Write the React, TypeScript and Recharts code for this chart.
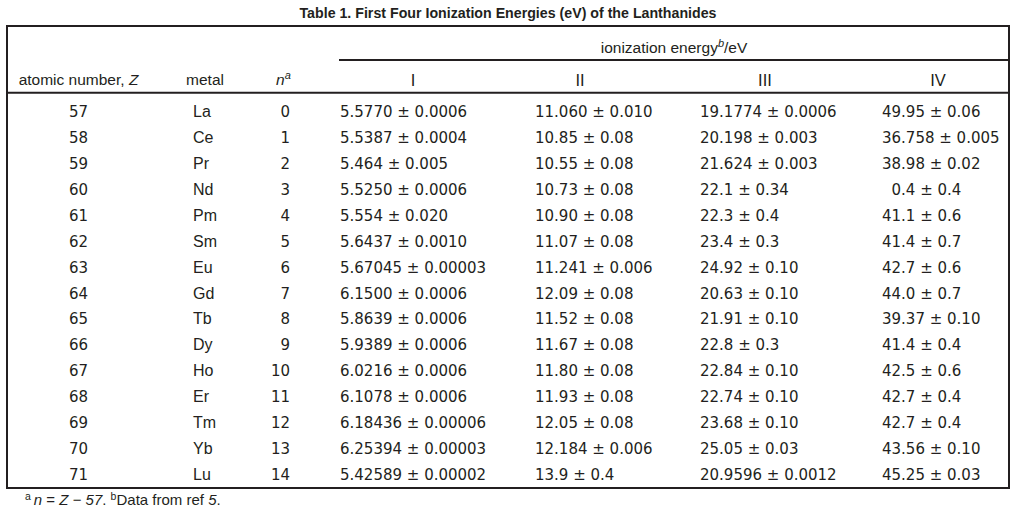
import React from 'react';
import { ScatterChart, Scatter, XAxis, YAxis, Customized } from 'recharts';

// table rows
const atomicNumbers = [57, 58, 59, 60, 61, 62, 63, 64, 65, 66, 67, 68, 69, 70, 71];
const metals = ['La', 'Ce', 'Pr', 'Nd', 'Pm', 'Sm', 'Eu', 'Gd', 'Tb', 'Dy', 'Ho', 'Er', 'Tm', 'Yb', 'Lu'];
const nValues = [0, 1, 2, 3, 4, 5, 6, 7, 8, 9, 10, 11, 12, 13, 14];
const energyI = [
  '5.5770 ± 0.0006', '5.5387 ± 0.0004', '5.464 ± 0.005', '5.5250 ± 0.0006', '5.554 ± 0.020',
  '5.6437 ± 0.0010', '5.67045 ± 0.00003', '6.1500 ± 0.0006', '5.8639 ± 0.0006', '5.9389 ± 0.0006',
  '6.0216 ± 0.0006', '6.1078 ± 0.0006', '6.18436 ± 0.00006', '6.25394 ± 0.00003', '5.42589 ± 0.00002',
];
const energyII = [
  '11.060 ± 0.010', '10.85 ± 0.08', '10.55 ± 0.08', '10.73 ± 0.08', '10.90 ± 0.08',
  '11.07 ± 0.08', '11.241 ± 0.006', '12.09 ± 0.08', '11.52 ± 0.08', '11.67 ± 0.08',
  '11.80 ± 0.08', '11.93 ± 0.08', '12.05 ± 0.08', '12.184 ± 0.006', '13.9 ± 0.4',
];
const energyIII = [
  '19.1774 ± 0.0006', '20.198 ± 0.003', '21.624 ± 0.003', '22.1 ± 0.34', '22.3 ± 0.4',
  '23.4 ± 0.3', '24.92 ± 0.10', '20.63 ± 0.10', '21.91 ± 0.10', '22.8 ± 0.3',
  '22.84 ± 0.10', '22.74 ± 0.10', '23.68 ± 0.10', '25.05 ± 0.03', '20.9596 ± 0.0012',
];
const energyIV = [
  '49.95 ± 0.06', '36.758 ± 0.005', '38.98 ± 0.02', '\u20070.4 ± 0.4', '41.1 ± 0.6',
  '41.4 ± 0.7', '42.7 ± 0.6', '44.0 ± 0.7', '39.37 ± 0.10', '41.4 ± 0.4',
  '42.5 ± 0.6', '42.7 ± 0.4', '42.7 ± 0.4', '43.56 ± 0.10', '45.25 ± 0.03',
];
const stageLabels = ['I', 'II', 'III', 'IV'];

const W = 1018;
const H = 513;
const INK = '#231f20';
const SANS = '"Liberation Sans", Arial, sans-serif';
const NUM = '"DejaVu Sans", sans-serif';

type Anchor = 'start' | 'middle' | 'end';
interface Column {
  key: string;
  x: number;
  anchor: Anchor;
  font: string;
  size: number;
  cells: (string | number)[];
}

const columns: Column[] = [
  { key: 'z', x: 78.5, anchor: 'middle', font: NUM, size: 15, cells: atomicNumbers },
  { key: 'metal', x: 193, anchor: 'start', font: SANS, size: 16, cells: metals },
  { key: 'n', x: 290, anchor: 'end', font: NUM, size: 15, cells: nValues },
  { key: 'I', x: 340, anchor: 'start', font: NUM, size: 15, cells: energyI },
  { key: 'II', x: 535, anchor: 'start', font: NUM, size: 15, cells: energyII },
  { key: 'III', x: 700, anchor: 'start', font: NUM, size: 15, cells: energyIII },
  { key: 'IV', x: 882, anchor: 'start', font: NUM, size: 15, cells: energyIV },
];
const stageCenters = [413, 580, 765, 938];

const cellShape = (col: Column) => (props: any) => (
  <text
    x={col.x}
    y={props.cy + 5.5}
    textAnchor={col.anchor}
    fontFamily={col.font}
    fontSize={col.size}
    fill={INK}
  >
    {props.payload.label}
  </text>
);

const Frame = () => (
  <g fill={INK}>
    <text x={508} y={18} textAnchor="middle" fontFamily={SANS} fontWeight="bold" fontSize={15.5}
      textLength={417} lengthAdjust="spacingAndGlyphs">
      Table 1.  First Four Ionization Energies (eV) of the Lanthanides
    </text>
    <rect x={7} y={26} width={1002} height={462} fill="none" stroke={INK} strokeWidth={2} />
    <line x1={339} x2={1009} y1={60} y2={60} stroke={INK} strokeWidth={2} />
    <line x1={7} x2={1009} y1={92.7} y2={92.7} stroke={INK} strokeWidth={2} />

    <text x={674} y={52.5} textAnchor="middle" fontFamily={SANS} fontSize={15.5}>
      ionization energy<tspan fontStyle="italic" fontSize={11} dy={-6}>b</tspan>
      <tspan dy={6}>/eV</tspan>
    </text>
    <text x={78.5} y={85} textAnchor="middle" fontFamily={SANS} fontSize={15.5}>
      atomic number, <tspan fontStyle="italic">Z</tspan>
    </text>
    <text x={205} y={85} textAnchor="middle" fontFamily={SANS} fontSize={15.5}>metal</text>
    <text x={276} y={85} fontFamily={SANS} fontSize={15.5} fontStyle="italic">
      n<tspan fontSize={11} dy={-6}>a</tspan>
    </text>
    {stageLabels.map((s, i) => (
      <text key={s} x={stageCenters[i]} y={85.5} textAnchor="middle" fontFamily={SANS} fontSize={16.5}>{s}</text>
    ))}

    <text x={25} y={505} fontFamily={SANS} fontSize={15}>
      <tspan fontSize={10.5} dy={-5}>a</tspan>
      <tspan dy={5} dx={3} fontStyle="italic">n</tspan>
      <tspan> = </tspan>
      <tspan fontStyle="italic">Z</tspan>
      <tspan> − </tspan>
      <tspan fontStyle="italic">57</tspan>
      <tspan>. </tspan>
      <tspan fontSize={10.5} dy={-5}>b</tspan>
      <tspan dy={5}>Data from ref </tspan>
      <tspan fontStyle="italic">5</tspan>
      <tspan>.</tspan>
    </text>
  </g>
);

export default function App() {
  return (
    <div style={{ position: 'absolute', left: 0, top: 0 }}>
      <ScatterChart width={W} height={H} margin={{ top: 99, right: 0, bottom: 26, left: 0 }}>
        <XAxis type="number" dataKey="col" domain={[-0.5, 6.5]} hide />
        <YAxis type="number" dataKey="z" domain={[56.5, 71.5]} reversed hide />
        <Customized component={<Frame />} />
        {columns.map((col, c) => (
          <Scatter
            key={col.key}
            data={atomicNumbers.map((z, i) => ({ col: c, z, label: col.cells[i] }))}
            shape={cellShape(col)}
            isAnimationActive={false}
          />
        ))}
      </ScatterChart>
    </div>
  );
}
